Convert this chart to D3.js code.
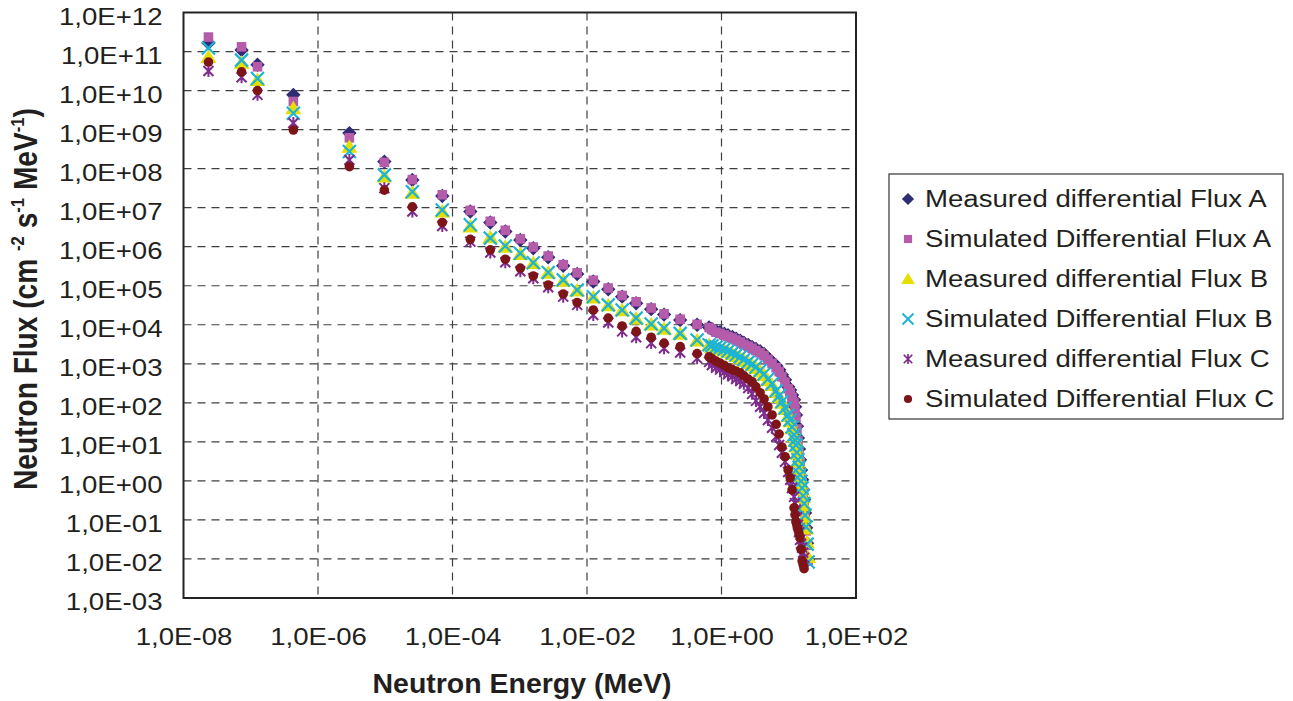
<!DOCTYPE html>
<html>
<head>
<meta charset="utf-8">
<script src="https://cdn.jsdelivr.net/npm/d3@7"></script>
<style>
  body { margin: 0; background: #fff; }
  svg { display: block; font-family: "Liberation Sans", Arial, sans-serif; }
</style>
</head>
<body>
<div id="chart"></div>
<script>
// Chart data (energies in MeV, flux values as log10 of cm-2 s-1 MeV-1)
var energy = [2.35e-8, 7.3e-8, 1.26e-7, 4.3e-7, 2.93e-6, 9.7e-6, 2.53e-5, 7.05e-5,
  1.84e-4, 3.65e-4, 6.1e-4, 1.02e-3, 1.59e-3, 2.65e-3, 4.43e-3, 7.14e-3, 1.24e-2,
  2.07e-2, 3.33e-2, 5.38e-2, 9.0e-2, 0.14, 0.243, 0.434, 0.655,
  0.72, 0.83, 0.95, 1.1, 1.25, 1.45, 1.65, 1.9, 2.15, 2.5, 2.85, 3.25, 3.75, 4.3,
  4.9, 5.65, 6.5, 7.2, 7.9, 8.8, 9.8, 10.5, 11.2,
  12, 12.4, 12.8, 13.25, 13.7, 14.2, 14.7, 15.25, 15.8, 16.35, 16.9, 17.5, 18.1, 18.75, 19.4];

var measA = [11.22, 11.04, 10.66, 9.89, 8.91, 8.18, 7.71, 7.30, 6.90, 6.62, 6.39,
  6.17, 5.96, 5.73, 5.51, 5.30, 5.11, 4.91, 4.72, 4.55, 4.40, 4.26, 4.12, 4.00, 3.93,
  3.89, 3.84, 3.81, 3.77, 3.73, 3.69, 3.64, 3.59, 3.54, 3.48, 3.43, 3.38, 3.32, 3.25,
  3.15, 3.05, 2.95, 2.85, 2.72, 2.59, 2.41, 2.33, 2.20,
  2.08, 1.90, 1.69, 1.40, 1.10, 0.82, 0.54, 0.28, 0.03, -0.22, -0.48, -0.82, -1.20, -1.60, -2.02];

var simA = [11.37, 11.12, 10.61, 9.72, 8.79, 8.16, 7.72, 7.33, 6.93, 6.65, 6.42,
  6.20, 5.99, 5.76, 5.54, 5.33, 5.14, 4.94, 4.75, 4.59, 4.43, 4.28, 4.14, 4.01, 3.93,
  3.88, 3.81, 3.78, 3.74, 3.70, 3.66, 3.61, 3.56, 3.50, 3.45, 3.40, 3.34, 3.28, 3.21,
  3.11, 3.01, 2.90, 2.80, 2.67, 2.53, 2.36, 2.27, 2.14,
  2.01, 1.83, 1.62, 1.33, 1.03, 0.75, 0.48, 0.22, -0.04, -0.30, -0.55, -0.90, -1.28, -1.65, -2.05];

var measB = [10.86, 10.71, 10.27, 9.55, 8.56, 7.80, 7.38, 6.90, 6.52, 6.24, 6.00,
  5.81, 5.58, 5.33, 5.13, 4.88, 4.70, 4.50, 4.37, 4.16, 4.01, 3.90, 3.77, 3.60, 3.48,
  3.43, 3.40, 3.38, 3.35, 3.30, 3.25, 3.20, 3.15, 3.08, 3.02, 2.96, 2.89, 2.80, 2.71,
  2.58, 2.46, 2.28, 2.15, 2.00, 1.84, 1.66, 1.53, 1.35,
  1.15, 1.02, 0.88, 0.70, 0.50, 0.31, 0.12, -0.05, -0.22, -0.42, -0.62, -0.92, -1.22, -1.58, -1.95];

var simB = [11.09, 10.78, 10.31, 9.42, 8.44, 7.84, 7.41, 6.94, 6.56, 6.22, 6.02,
  5.83, 5.59, 5.34, 5.15, 4.89, 4.72, 4.51, 4.38, 4.17, 4.02, 3.91, 3.78, 3.61, 3.49,
  3.46, 3.43, 3.41, 3.38, 3.33, 3.28, 3.23, 3.18, 3.11, 3.05, 2.99, 2.92, 2.83, 2.74,
  2.61, 2.49, 2.31, 2.18, 2.03, 1.87, 1.69, 1.56, 1.38,
  1.18, 1.05, 0.92, 0.73, 0.54, 0.35, 0.16, -0.01, -0.18, -0.38, -0.58, -0.88, -1.18, -1.62, -2.08];

var measC = [10.50, 10.34, 9.89, 9.17, 8.22, 7.50, 6.90, 6.53, 6.13, 5.85, 5.60,
  5.37, 5.19, 4.96, 4.72, 4.51, 4.25, 4.06, 3.83, 3.68, 3.53, 3.40, 3.29, 3.14, 3.05,
  2.97, 2.90, 2.85, 2.79, 2.73, 2.68, 2.61, 2.56, 2.49, 2.38, 2.23, 2.05, 1.90, 1.74,
  1.56, 1.36, 1.13, 0.92, 0.72, 0.49, 0.23, 0.03, -0.18,
  -0.41, -0.57, -0.74, -0.93, -1.12, -1.31, -1.51, -1.61, -1.71, -1.84, -1.97, null, null, null, null];

var simC = [10.73, 10.48, 10.00, 8.99, 8.05, 7.45, 7.02, 6.62, 6.19, 5.92, 5.68,
  5.45, 5.25, 5.02, 4.79, 4.57, 4.38, 4.17, 3.97, 3.83, 3.68, 3.53, 3.44, 3.26, 3.18,
  3.13, 3.07, 3.02, 2.96, 2.90, 2.85, 2.81, 2.77, 2.69, 2.61, 2.54, 2.41, 2.26, 2.10,
  1.90, 1.69, 1.45, 1.20, 0.87, 0.62, 0.28, 0.08, -0.23,
  -0.69, -0.87, -1.05, -1.15, -1.25, -1.35, -1.46, -1.75, -2.05, -2.15, -2.25, null, null, null, null];

var seriesNames = ["Measured differential Flux A", "Simulated Differential Flux A",
  "Measured differential Flux B", "Simulated Differential Flux B",
  "Measured differential Flux C", "Simulated Differential Flux C"];

var xTicks = [1e-8, 1e-6, 1e-4, 1e-2, 1, 1e2];
var yTicks = [1e12, 1e11, 1e10, 1e9, 1e8, 1e7, 1e6, 1e5, 1e4, 1e3, 1e2, 1e1, 1, 1e-1, 1e-2, 1e-3];

// Series styling
var series = [
  { name: seriesNames[0], values: measA, shape: "diamond", color: "#2F2C74" },
  { name: seriesNames[1], values: simA, shape: "square", color: "#B45BAA" },
  { name: seriesNames[2], values: measB, shape: "triangle", color: "#E5DE00" },
  { name: seriesNames[3], values: simB, shape: "cross", color: "#1BB4D8" },
  { name: seriesNames[4], values: measC, shape: "star", color: "#7E2B8D" },
  { name: seriesNames[5], values: simC, shape: "circle", color: "#7D1518" }
];

var svgWidth = 1293;
var svgHeight = 701;
var plot = { left: 183.5, right: 856, top: 12.5, bottom: 598 };

var svg = d3.select("#chart")
  .append("svg")
  .attr("width", svgWidth)
  .attr("height", svgHeight);

var xScale = d3.scaleLog().domain([1e-8, 1e2]).range([plot.left, plot.right]);
var yScale = d3.scaleLog().domain([1e-3, 1e12]).range([plot.bottom, plot.top]);

function sci(d) {
  var e = Math.round(Math.log10(d));
  return "1,0E" + (e < 0 ? "-" : "+") + String(Math.abs(e)).padStart(2, "0");
}

// stretch text horizontally like the source image
function stretch(sel, factor) {
  sel.each(function() {
    var w = this.getComputedTextLength();
    d3.select(this).attr("textLength", w * factor).attr("lengthAdjust", "spacingAndGlyphs");
  });
}

// gridlines
svg.append("g")
  .selectAll("line")
  .data(yTicks.slice(1, -1))
  .enter()
  .append("line")
  .attr("x1", plot.left).attr("x2", plot.right)
  .attr("y1", d => yScale(d)).attr("y2", d => yScale(d))
  .attr("stroke", "#3f3f3f")
  .attr("stroke-width", 1.2)
  .attr("stroke-dasharray", "8,6");

svg.append("g")
  .selectAll("line")
  .data(xTicks.slice(1, -1))
  .enter()
  .append("line")
  .attr("x1", d => xScale(d)).attr("x2", d => xScale(d))
  .attr("y1", plot.top).attr("y2", plot.bottom)
  .attr("stroke", "#3f3f3f")
  .attr("stroke-width", 1.2)
  .attr("stroke-dasharray", "8,6");

// axes
var leftAxis = d3.axisLeft(yScale).tickValues(yTicks).tickFormat(sci).tickSize(0).tickPadding(21);
var bottomAxis = d3.axisBottom(xScale).tickValues(xTicks).tickFormat(sci).tickSize(0).tickPadding(31);

var yAxisG = svg.append("g")
  .attr("transform", `translate(${plot.left},0)`)
  .call(leftAxis);
var xAxisG = svg.append("g")
  .attr("transform", `translate(0,${plot.bottom})`)
  .call(bottomAxis);

[yAxisG, xAxisG].forEach(function(g) {
  g.select(".domain").remove();
  g.selectAll("text")
    .attr("font-size", "23px")
    .attr("font-family", "Liberation Sans, Arial, sans-serif")
    .attr("fill", "#231F20");
});
yAxisG.selectAll("text").attr("dy", "0.5em");
stretch(yAxisG.selectAll("text"), 1.2);
stretch(xAxisG.selectAll("text"), 1.2);

// plot border
svg.append("rect")
  .attr("x", plot.left).attr("y", plot.top)
  .attr("width", plot.right - plot.left)
  .attr("height", plot.bottom - plot.top)
  .attr("fill", "none")
  .attr("stroke", "#222")
  .attr("stroke-width", 2);

// marker drawing
function drawMarker(g, shape, color) {
  if (shape === "diamond") {
    g.append("path").attr("d", "M0,-7.2L7.2,0L0,7.2L-7.2,0Z").attr("fill", color);
  } else if (shape === "square") {
    g.append("rect").attr("x", -4.8).attr("y", -4.8).attr("width", 9.6).attr("height", 9.6).attr("fill", color);
  } else if (shape === "triangle") {
    g.append("path").attr("d", "M0,-7.5L8,6L-8,6Z").attr("fill", color);
  } else if (shape === "cross") {
    g.append("path").attr("d", "M-6.5,-6.5L6.5,6.5M-6.5,6.5L6.5,-6.5")
      .attr("stroke", color).attr("stroke-width", 2.2).attr("fill", "none");
  } else if (shape === "star") {
    g.append("path").attr("d", "M-5,-5L5,5M-5,5L5,-5M0,-6L0,6")
      .attr("stroke", color).attr("stroke-width", 2).attr("fill", "none");
  } else {
    g.append("circle").attr("r", 4.8).attr("fill", color);
  }
}

// points
series.forEach(function(s) {
  var pts = energy.map((e, i) => ({ e: e, v: s.values[i] })).filter(p => p.v !== null);
  svg.append("g")
    .selectAll("g")
    .data(pts)
    .enter()
    .append("g")
    .attr("transform", d => `translate(${xScale(d.e)},${yScale(Math.pow(10, d.v))})`)
    .each(function() { drawMarker(d3.select(this), s.shape, s.color); });
});

// legend
var legend = svg.append("g");
legend.append("rect")
  .attr("x", 889).attr("y", 174)
  .attr("width", 394).attr("height", 245)
  .attr("fill", "#fff")
  .attr("stroke", "#333")
  .attr("stroke-width", 1.2);

series.forEach(function(s, i) {
  var row = legend.append("g").attr("transform", `translate(0,${206.5 + i * 40})`);
  drawMarker(row.append("g").attr("transform", "translate(908,-7.5) scale(0.85)"), s.shape, s.color);
  row.append("text")
    .attr("x", 925)
    .attr("font-size", "23px")
    .attr("fill", "#231F20")
    .text(s.name);
});
stretch(legend.selectAll("text"), 1.2);

// axis titles
var xTitle = svg.append("text")
  .attr("x", 522).attr("y", 693)
  .attr("text-anchor", "middle")
  .attr("font-size", "27px")
  .attr("font-weight", "bold")
  .attr("fill", "#231F20")
  .text("Neutron Energy (MeV)");
xTitle.attr("textLength", 299).attr("lengthAdjust", "spacingAndGlyphs");

var yTitleG = svg.append("g");
var yTitle = yTitleG.append("text")
  .attr("text-anchor", "middle")
  .attr("font-size", "27px")
  .attr("font-weight", "bold")
  .attr("fill", "#231F20");
yTitle.append("tspan").text("Neutron Flux (cm ");
yTitle.append("tspan").attr("font-size", "16px").attr("dy", -11).text("-2");
yTitle.append("tspan").attr("dy", 11).text(" s");
yTitle.append("tspan").attr("font-size", "16px").attr("dy", -11).text("-1");
yTitle.append("tspan").attr("dy", 11).text(" MeV");
yTitle.append("tspan").attr("font-size", "16px").attr("dy", -11).text("-1");
yTitle.append("tspan").attr("dy", 11).text(")");
var titleLen = yTitle.node().getBBox().width;
yTitleG.attr("transform", `translate(37,299) rotate(-90) scale(${382 / titleLen},1.2)`);
</script>
</body>
</html>
